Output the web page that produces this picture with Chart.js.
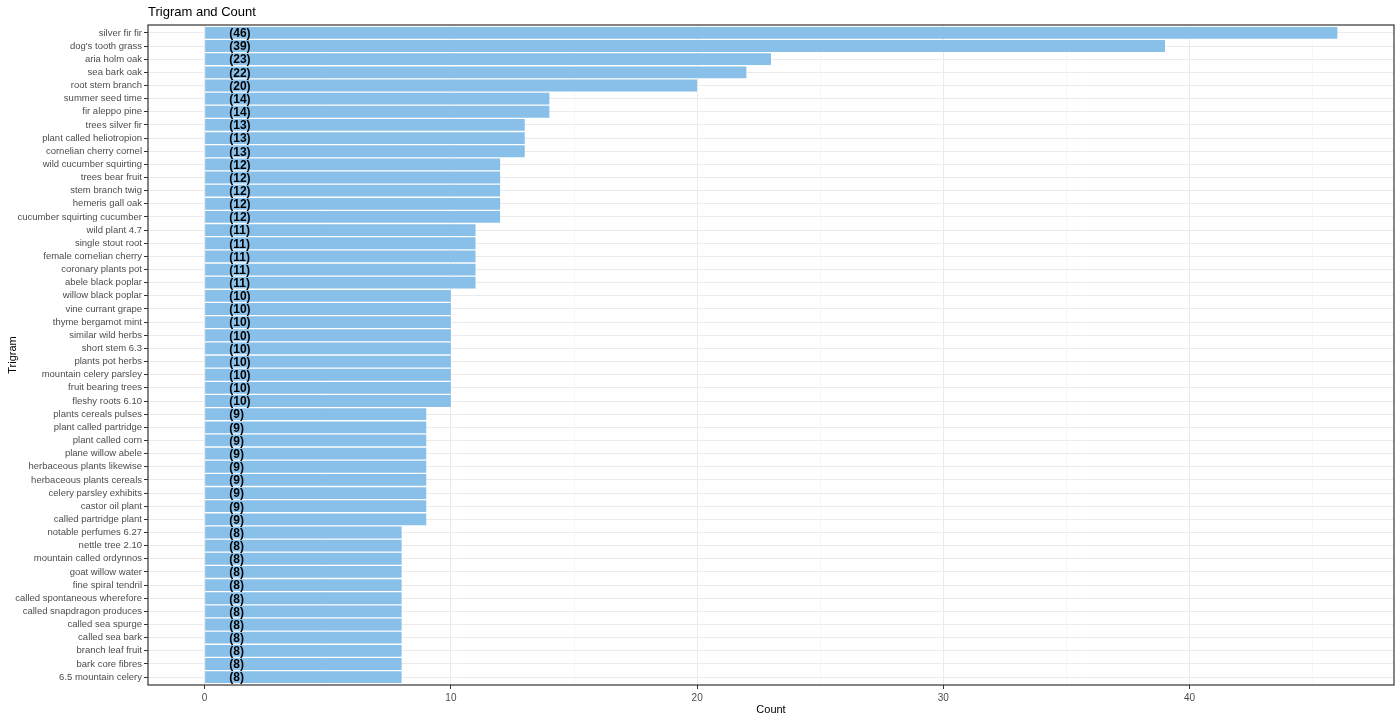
<!DOCTYPE html>
<html>
<head>
<meta charset="utf-8">
<script src="https://cdn.jsdelivr.net/npm/chart.js@4/dist/chart.umd.min.js"></script>
<style>
  html, body { margin: 0; padding: 0; background: #fff; }
  #wrap { width: 1400px; height: 720px; }
</style>
</head>
<body>
<div id="wrap"><canvas id="myChart" width="1400" height="720"></canvas></div>
<script>
const trigrams = [
  'silver fir fir', "dog's tooth grass", 'aria holm oak', 'sea bark oak', 'root stem branch',
  'summer seed time', 'fir aleppo pine', 'trees silver fir', 'plant called heliotropion', 'cornelian cherry cornel',
  'wild cucumber squirting', 'trees bear fruit', 'stem branch twig', 'hemeris gall oak', 'cucumber squirting cucumber',
  'wild plant 4.7', 'single stout root', 'female cornelian cherry', 'coronary plants pot', 'abele black poplar',
  'willow black poplar', 'vine currant grape', 'thyme bergamot mint', 'similar wild herbs', 'short stem 6.3',
  'plants pot herbs', 'mountain celery parsley', 'fruit bearing trees', 'fleshy roots 6.10', 'plants cereals pulses',
  'plant called partridge', 'plant called corn', 'plane willow abele', 'herbaceous plants likewise', 'herbaceous plants cereals',
  'celery parsley exhibits', 'castor oil plant', 'called partridge plant', 'notable perfumes 6.27', 'nettle tree 2.10',
  'mountain called ordynnos', 'goat willow water', 'fine spiral tendril', 'called spontaneous wherefore', 'called snapdragon produces',
  'called sea spurge', 'called sea bark', 'branch leaf fruit', 'bark core fibres', '6.5 mountain celery'
];
const counts = [
  46, 39, 23, 22, 20,
  14, 14, 13, 13, 13,
  12, 12, 12, 12, 12,
  11, 11, 11, 11, 11,
  10, 10, 10, 10, 10,
  10, 10, 10, 10, 9,
  9, 9, 9, 9, 9,
  9, 9, 9, 8, 8,
  8, 8, 8, 8, 8,
  8, 8, 8, 8, 8
];
const xTicks = [0, 10, 20, 30, 40];

const FONT = "'Liberation Sans', Arial, sans-serif";

// title, count labels and panel border, drawn like ggplot does
const extras = {
  id: 'extras',
  afterDatasetsDraw(chart) {
    const { ctx, scales } = chart;
    ctx.save();
    ctx.font = 'bold 12px ' + FONT;
    ctx.fillStyle = '#000';
    ctx.textAlign = 'left';
    ctx.textBaseline = 'middle';
    counts.forEach((c, i) => {
      ctx.fillText('(' + c + ')', scales.x.getPixelForValue(1), scales.y.getPixelForValue(i) + 1);
    });
    ctx.restore();
  },
  afterDraw(chart) {
    const { ctx, chartArea } = chart;
    ctx.save();
    ctx.strokeStyle = '#333333';
    ctx.lineWidth = 1.2;
    ctx.strokeRect(chartArea.left, chartArea.top, chartArea.right - chartArea.left, chartArea.bottom - chartArea.top);
    ctx.font = '13px ' + FONT;
    ctx.fillStyle = '#000';
    ctx.textAlign = 'left';
    ctx.textBaseline = 'middle';
    ctx.fillText('Trigram and Count', chartArea.left, 12);
    ctx.restore();
  }
};

const chart1 = new Chart(document.getElementById('myChart'), {
  type: 'bar',
  data: {
    datasets: [{
      label: 'Count',
      data: counts.map((c, i) => ({ x: c, y: i })),
      backgroundColor: '#88c0ea',
      barPercentage: 0.9,
      categoryPercentage: 1.0,
    }]
  },
  options: {
    indexAxis: 'y',
    responsive: false,
    animation: false,
    layout: { padding: { top: 25, right: 6, left: 0, bottom: 0 } },
    plugins: {
      legend: { display: false },
      tooltip: { enabled: false },
    },
    scales: {
      x: {
        type: 'linear',
        min: -2.3,
        max: 48.3,
        afterBuildTicks(scale) {
          scale.ticks = [];
          for (let v = 0; v <= 45; v += 5) scale.ticks.push({ value: v });
        },
        afterFit(scale) { scale.height = 35; },
        grid: {
          color: c => (xTicks.includes(c.tick.value) ? '#ebebeb' : '#f3f3f3'),
          lineWidth: c => (xTicks.includes(c.tick.value) ? 1 : 0.7),
          tickColor: c => (xTicks.includes(c.tick.value) ? '#333333' : 'rgba(0,0,0,0)'),
          tickLength: 4,
        },
        border: { display: false },
        ticks: {
          callback: v => (xTicks.includes(v) ? String(v) : ''),
          color: '#4d4d4d',
          font: { family: FONT, size: 10 },
          padding: 3,
          maxRotation: 0,
          autoSkip: false,
        },
        title: {
          display: true,
          text: 'Count',
          color: '#000',
          font: { family: FONT, size: 11 },
          padding: { top: 1, bottom: 3 },
        },
      },
      y: {
        type: 'linear',
        reverse: true,
        offset: false,
        min: -0.6,
        max: trigrams.length - 1 + 0.6,
        afterBuildTicks(scale) {
          scale.ticks = trigrams.map((t, i) => ({ value: i }));
        },
        afterFit(scale) { scale.width = 148; },
        grid: {
          offset: false,
          color: '#ebebeb',
          lineWidth: 1,
          tickColor: '#333333',
          tickLength: 4,
        },
        border: { display: false },
        ticks: {
          callback: v => trigrams[v],
          color: '#4d4d4d',
          font: { family: FONT, size: 9.5 },
          padding: 2,
          autoSkip: false,
        },
        title: {
          display: true,
          text: 'Trigram',
          color: '#000',
          font: { family: FONT, size: 11 },
          padding: { top: 6, bottom: 0 },
        },
      },
    },
  },
  plugins: [extras],
});
</script>
</body>
</html>
